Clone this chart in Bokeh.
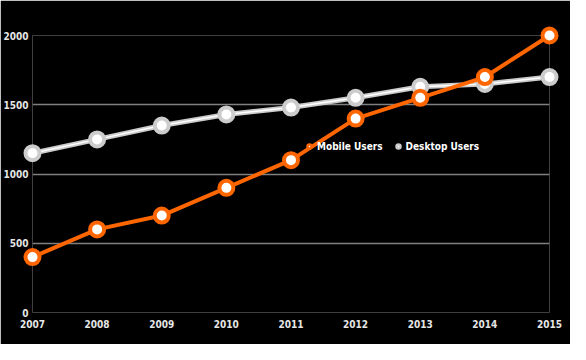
from bokeh.plotting import figure
from bokeh.models import ColumnDataSource, Legend, LegendItem, Range1d, FixedTicker
from bokeh.embed import file_html
from bokeh.resources import INLINE

years = [2007, 2008, 2009, 2010, 2011, 2012, 2013, 2014, 2015]
mobile_users = [400, 600, 700, 900, 1100, 1400, 1550, 1700, 2000]
desktop_users = [1150, 1250, 1350, 1430, 1480, 1550, 1630, 1650, 1700]
y_ticks = [0, 500, 1000, 1500, 2000]

FONT = "DejaVu Sans Condensed"
ORANGE = "#ff6600"
GRAY = "#cccccc"

src = ColumnDataSource(dict(x=years, m=mobile_users, d=desktop_users))

p = figure(width=570, height=344, output_backend="svg", toolbar_location=None,
           x_range=Range1d(2007, 2015), y_range=Range1d(0, 2000),
           background_fill_color="black", border_fill_color="black",
           min_border_left=31, min_border_right=21, min_border_top=35, min_border_bottom=32)
p.outline_line_color = None
p.outline_line_alpha = 0

p.xgrid.visible = False
p.ygrid.grid_line_color = "#808080"
p.ygrid.grid_line_width = 1.5
p.ygrid.ticker = FixedTicker(ticks=y_ticks)

for ax in (p.xaxis, p.yaxis):
    ax.axis_line_color = None
    ax.major_tick_line_color = None
    ax.minor_tick_line_color = None
    ax.major_tick_out = 0
    ax.major_tick_in = 0
    ax.minor_tick_out = 0
    ax.major_label_text_color = "#e6e6e6"
    ax.major_label_text_font = FONT
    ax.major_label_text_font_style = "bold"
    ax.major_label_text_font_size = "10px"
p.yaxis.ticker = FixedTicker(ticks=y_ticks)
p.xaxis.ticker = FixedTicker(ticks=years)
p.yaxis.major_label_standoff = 4
p.xaxis.major_label_standoff = 7

# Desktop series
r1 = p.line("x", "d", source=src, line_color=GRAY, line_width=5)
r2 = p.line("x", "d", source=src, line_color="white", line_width=1.5)
r3 = p.scatter("x", "d", source=src, size=14, fill_color="white", line_color=GRAY, line_width=4)

# Mobile series
r4 = p.line("x", "m", source=src, line_color=ORANGE, line_width=4)
r5 = p.scatter("x", "m", source=src, size=14, fill_color="white", line_color=ORANGE, line_width=4)
for r in (r1, r2, r3, r4, r5):
    r.level = "overlay"

# Legend glyphs (small, not drawn in the plot)
nan = float("nan")
lm = p.scatter([nan], [nan], size=8, fill_color="white", line_color=ORANGE, line_width=2.5)
ld = p.scatter([nan], [nan], size=8, fill_color="white", line_color=GRAY, line_width=2.5)

legend = Legend(items=[LegendItem(label="Mobile Users", renderers=[lm]),
                       LegendItem(label="Desktop Users", renderers=[ld])],
                orientation="horizontal", location=(272, 160),
                background_fill_alpha=0, border_line_color=None,
                label_text_color="white", label_text_font=FONT,
                label_text_font_style="bold", label_text_font_size="10px",
                glyph_width=10, glyph_height=12, label_standoff=3, spacing=10,
                padding=0, margin=0, label_height=12)
p.add_layout(legend, "center")

open("out.html", "w").write(file_html(p, INLINE))
